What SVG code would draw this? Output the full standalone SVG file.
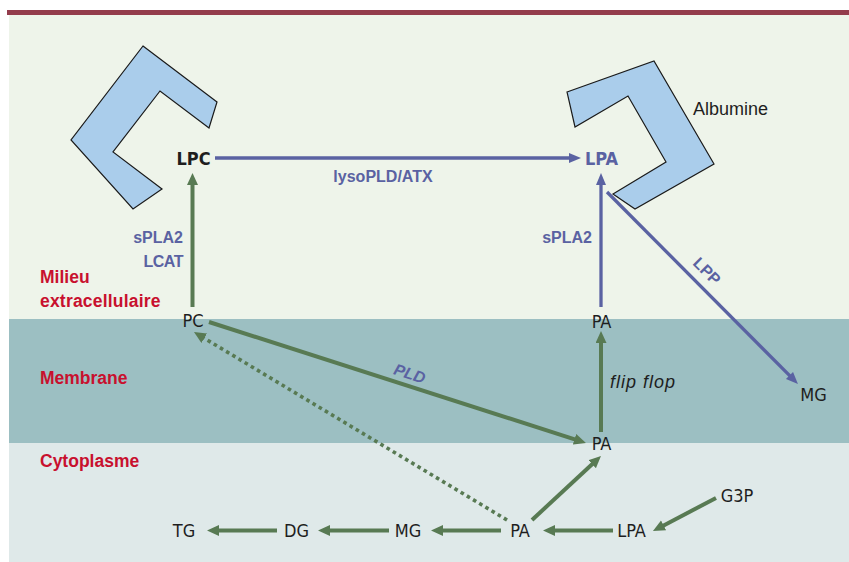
<svg xmlns="http://www.w3.org/2000/svg" width="849" height="562" viewBox="0 0 849 562">
  <style>
    .lbl { font-family: 'Liberation Sans Narrow', 'DejaVu Sans Condensed', 'Liberation Sans', sans-serif; font-size: 18px; fill: #1e1e1e; }
    .word { font-family: 'Liberation Sans', Arial, sans-serif; fill: #1e1e1e; }
    .blue { font-family: 'Liberation Sans', Arial, sans-serif; font-weight: bold; font-size: 16px; fill: #5a62a2; }
    .bluen { font-family: 'Liberation Sans Narrow', 'DejaVu Sans Condensed', 'Liberation Sans', sans-serif; font-weight: bold; font-size: 18px; fill: #5a62a2; }
    .zone { font-family: 'Liberation Sans', Arial, sans-serif; font-weight: bold; font-size: 17.5px; fill: #c8102e; }
    .alb { fill: #aacdeb; stroke: #1a1a1a; stroke-width: 1.2; stroke-linejoin: miter; }
    .g { stroke: #587a53; stroke-width: 4; fill: none; }
    .b { stroke: #5a62a2; stroke-width: 3.3; fill: none; }
    .dot { stroke: #587a53; stroke-width: 3.6; fill: none; stroke-dasharray: 3.6 3.6; }
  </style>
  <defs>
    <marker id="ag" markerUnits="userSpaceOnUse" markerWidth="13" markerHeight="12" refX="1" refY="5.5" orient="auto">
      <path d="M0,0 L12,5.5 L0,11 z" fill="#587a53"/>
    </marker>
    <marker id="ab" markerUnits="userSpaceOnUse" markerWidth="13" markerHeight="12" refX="1" refY="5" orient="auto">
      <path d="M0,0 L12,5 L0,10 z" fill="#5a62a2"/>
    </marker>
  </defs>

  <!-- background zones -->
  <rect x="0" y="0" width="849" height="562" fill="#ffffff"/>
  <rect x="9" y="15" width="840" height="304" fill="#eef4ea"/>
  <rect x="9" y="319" width="840" height="124" fill="#9cbfc2"/>
  <rect x="9" y="443" width="840" height="119" fill="#dfe9e9"/>
  <rect x="7" y="10" width="842" height="5" fill="#933c4c"/>

  <g id="zones">
    <text class="zone" x="40" y="283">Milieu</text>
    <text class="zone" x="40" y="307" letter-spacing="0.2">extracellulaire</text>
    <text class="zone" x="40" y="384">Membrane</text>
    <text class="zone" x="40" y="467">Cytoplasme</text>
  </g>

  <g id="albumin-left">
    <polygon class="alb" points="143,46 217,102 209,128 160,91 113,152 162,189 133,209 71,140"/>
  </g>
  <g id="albumin-right">
    <polygon class="alb" points="567,92 654,61 714,164 635,209 613,194 666,162 628,96 575,127"/>
    <text class="word" x="693" y="115" font-size="18">Albumine</text>
  </g>

  <g id="connectors">
    <line class="b" x1="215" y1="158" x2="570" y2="158" marker-end="url(#ab)"/>
    <line class="g" x1="192.5" y1="307" x2="192.5" y2="184" marker-end="url(#ag)"/>
    <line class="b" x1="601" y1="307" x2="601" y2="184" marker-end="url(#ab)"/>
    <line class="b" x1="607" y1="192" x2="790.2" y2="376.2" marker-end="url(#ab)"/>
    <line class="g" x1="209" y1="322" x2="575.5" y2="439.6" marker-end="url(#ag)"/>
    <line class="g" x1="601" y1="432" x2="601" y2="342" marker-end="url(#ag)"/>
    <line class="dot" x1="507" y1="520" x2="203.4" y2="337.7" marker-end="url(#ag)"/>
    <line class="g" x1="277" y1="530.5" x2="218" y2="530.5" marker-end="url(#ag)"/>
    <line class="g" x1="389" y1="530.5" x2="329" y2="530.5" marker-end="url(#ag)"/>
    <line class="g" x1="501" y1="530.5" x2="442" y2="530.5" marker-end="url(#ag)"/>
    <line class="g" x1="613" y1="530.5" x2="554" y2="530.5" marker-end="url(#ag)"/>
    <line class="g" x1="532" y1="520" x2="592.9" y2="463.5" marker-end="url(#ag)"/>
    <line class="g" x1="716" y1="498" x2="662.7" y2="525.9" marker-end="url(#ag)"/>
    <text class="blue" x="383" y="182" text-anchor="middle">lysoPLD/ATX</text>
    <text class="blue" x="183" y="243" text-anchor="end">sPLA2</text>
    <text class="blue" x="183" y="267" text-anchor="end" letter-spacing="-0.5">LCAT</text>
    <text class="blue" x="592" y="243" text-anchor="end">sPLA2</text>
    <text class="blue" x="408" y="379" text-anchor="middle" font-style="italic" transform="rotate(17.8 408 379)">PLD</text>
    <text class="blue" x="703" y="275" text-anchor="middle" transform="rotate(45 703 275)">LPP</text>
    <text class="word" x="610" y="388" font-size="18" font-style="italic" letter-spacing="1">flip flop</text>
  </g>

  <g id="LPC"><text class="lbl" x="193.5" y="165" text-anchor="middle" font-weight="bold">LPC</text></g>
  <g id="LPA-ext"><text class="bluen" x="601.5" y="165" text-anchor="middle">LPA</text></g>
  <g id="PC"><text class="lbl" x="193" y="327" text-anchor="middle">PC</text></g>
  <g id="PA-outer"><text class="lbl" x="601.5" y="328" text-anchor="middle">PA</text></g>
  <g id="MG-ext"><text class="lbl" x="813.5" y="401" text-anchor="middle">MG</text></g>
  <g id="PA-inner"><text class="lbl" x="601.5" y="450" text-anchor="middle">PA</text></g>
  <g id="G3P"><text class="lbl" x="737" y="502" text-anchor="middle">G3P</text></g>
  <g id="TG"><text class="lbl" x="184" y="537" text-anchor="middle">TG</text></g>
  <g id="DG"><text class="lbl" x="296.5" y="537" text-anchor="middle">DG</text></g>
  <g id="MG"><text class="lbl" x="408" y="537" text-anchor="middle">MG</text></g>
  <g id="PA"><text class="lbl" x="520" y="537" text-anchor="middle">PA</text></g>
  <g id="LPA"><text class="lbl" x="631.5" y="537" text-anchor="middle">LPA</text></g>
</svg>
